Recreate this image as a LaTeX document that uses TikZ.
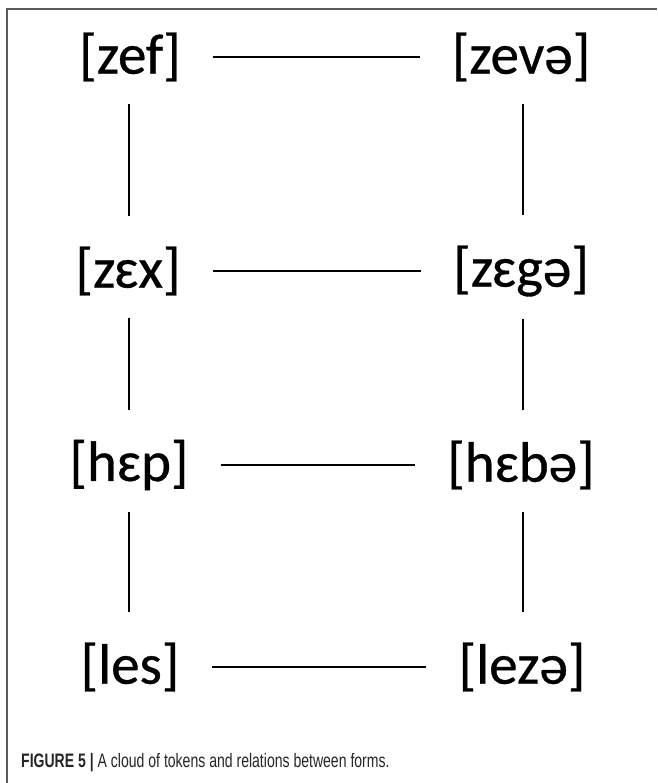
\documentclass[tikz,border=0pt]{standalone}
\usepackage{fontspec}
\usepackage{xcolor}
\setmainfont{Carlito}
\newfontfamily\formfont[FakeBold=0.6]{Carlito}
\newfontfamily\capfont[FakeStretch=0.72]{Liberation Sans}
\definecolor{framegray}{RGB}{90,90,90}
\usetikzlibrary{arrows}

\tikzset{
  form/.style={inner xsep=32pt,inner ysep=26pt,font=\formfont\fontsize{57}{66}\selectfont},
  rel/.style={black,line width=2.6pt},
  vrel/.style={rel,shorten <=-4pt,shorten >=4pt}
}

\begin{document}
\begin{tikzpicture}[x=1pt,y=1pt]
\useasboundingbox (0,0) rectangle (657,783);

    % frame
    \draw[framegray,line width=1.2pt] (7,0) -- (7,774) -- (657,774);

    % forms
    \node[form] (zef)  at (130,726) {[zef]};
    \node[form] (zeva) at (521,726) {[zevə]};
    \node[form] (zex)  at (128,512) {[zɛx]};
    \node[form] (zega) at (521,512) {[zɛgə]};
    \node[form] (hep)  at (129,318) {[hɛp]};
    \node[form] (heba) at (521,318) {[hɛbə]};
    \node[form] (les)  at (130,116) {[les]};
    \node[form] (leza) at (522,116) {[lezə]};

    % relations
    \draw[rel] (zef) -- (zeva);
    \draw[rel] (zex) -- (zega);
    \draw[rel] (hep) -- (heba);
    \draw[rel] (les) -- (leza);
    \draw[vrel] (zef.south -| 129,0) -- (zex.north -| 129,0);
    \draw[vrel] (zex.south -| 129,0) -- (hep.north -| 129,0);
    \draw[vrel] (hep.south -| 129,0) -- (les.north -| 129,0);
    \draw[vrel] (zeva.south -| 523,0) -- (zega.north -| 523,0);
    \draw[vrel] (zega.south -| 523,0) -- (heba.north -| 523,0);
    \draw[vrel] (heba.south -| 523,0) -- (leza.north -| 523,0);

    % caption
    \node[anchor=base west,inner sep=0pt,font=\capfont\fontsize{19.5}{22}\selectfont,black!85] (cap) at (21,16)
      {\textbf{FIGURE 5 |} A cloud of tokens and relations between forms.};
\end{tikzpicture}
\end{document}
